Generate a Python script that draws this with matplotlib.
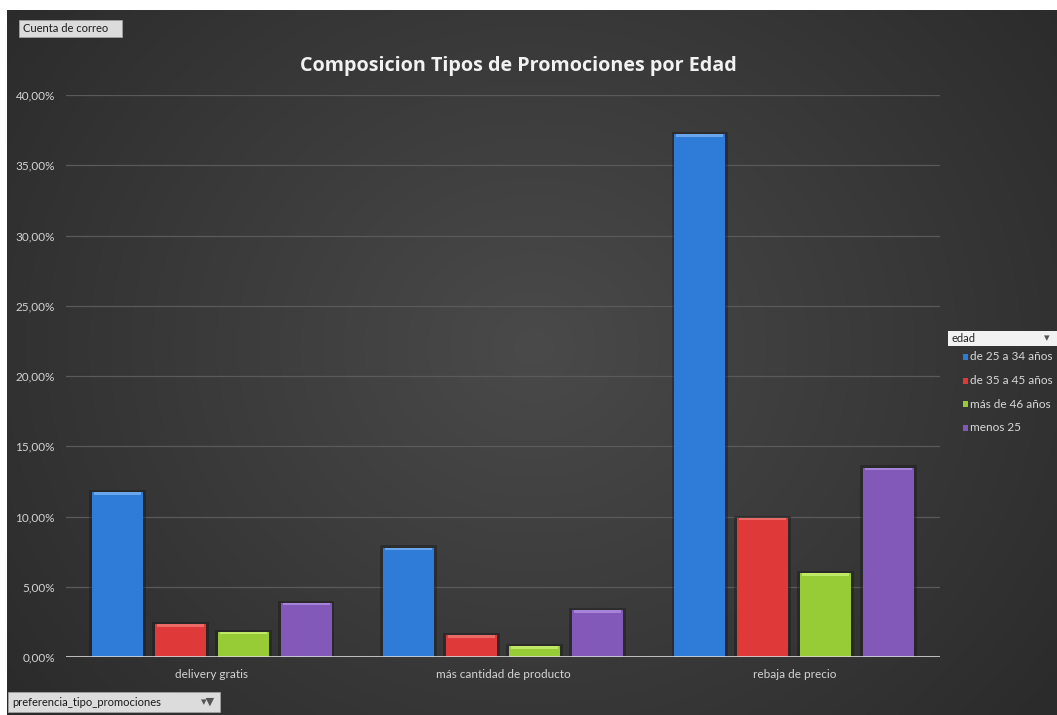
import matplotlib

matplotlib.use("Agg")
import matplotlib.pyplot as plt
import matplotlib.patches as mpatches
from matplotlib.ticker import FuncFormatter
import numpy as np

plt.rcParams["font.family"] = ["Lato", "DejaVu Sans"]

CATEGORIAS = ["delivery gratis", "más cantidad de producto", "rebaja de precio"]
EDADES = ["de 25 a 34 años", "de 35 a 45 años", "más de 46 años", "menos 25"]
COLORES = ["#2f7bd8", "#e0393a", "#98cc36", "#8259b9"]
BRILLOS = ["#6aa6ec", "#ec6a66", "#bfe866", "#a583d6"]

# porcentaje por tipo de promoción (fila = edad, columna = categoría)
VALORES = {
    "de 25 a 34 años": [11.74, 7.79, 37.22],
    "de 35 a 45 años": [2.33, 1.54, 9.92],
    "más de 46 años": [1.80, 0.76, 5.98],
    "menos 25": [3.86, 3.32, 13.48],
}
Y_TICKS = [0, 5, 10, 15, 20, 25, 30, 35, 40]

W, H = 1057, 715
fig = plt.figure(figsize=(W / 100, H / 100), dpi=100)
fig.patch.set_facecolor("white")

# fondo oscuro con degradado radial
bg = fig.add_axes([7 / W, 0, 1 - 7 / W, 1 - 10 / H])
yy, xx = np.mgrid[0:200, 0:300]
d = np.sqrt(((xx - 150) / 170) ** 2 + ((yy - 95) / 150) ** 2)
shade = np.clip(0.29 - 0.11 * d, 0.17, 0.29)
bg.imshow(np.dstack([shade] * 3), aspect="auto", extent=[0, 1, 0, 1], interpolation="bicubic")
bg.set_axis_off()

ax = fig.add_axes([66 / W, (H - 657) / H, (940 - 66) / W, (657 - 95) / H])
ax.patch.set_alpha(0)

x = np.arange(len(CATEGORIAS))
paso = 0.216
ancho = 0.175
for i, edad in enumerate(EDADES):
    pos = x + (i - 1.5) * paso
    vals = np.array(VALORES[edad])
    # sombra alrededor de la barra
    ax.bar(pos, vals + 0.25, width=ancho + 0.02, bottom=-0.1,
           color="#1a1a1a", alpha=0.45, zorder=2, linewidth=0)
    ax.bar(pos, vals, width=ancho, color=COLORES[i], zorder=3, linewidth=0)
    # bisel superior
    ax.bar(pos, 0.18, bottom=vals - 0.18, width=ancho * 0.92,
           color=BRILLOS[i], zorder=4, linewidth=0)

ax.set_xlim(-0.5, 2.5)
ax.set_ylim(0, 40)
ax.set_yticks(Y_TICKS)
ax.yaxis.set_major_formatter(FuncFormatter(lambda v, p: f"{v:.2f}%".replace(".", ",")))
ax.set_xticks(x)
ax.set_xticklabels(CATEGORIAS)
ax.tick_params(axis="both", length=0, colors="#d4d4d4", labelsize=8.5)
ax.tick_params(axis="y", pad=8)
ax.tick_params(axis="x", pad=9)
ax.grid(axis="y", color="#5a5a5a", linewidth=0.9, zorder=0)
ax.axhline(0, color="#d8d8d8", linewidth=1.2, zorder=5)
for s in ax.spines.values():
    s.set_visible(False)

fig.text(518 / W, 1 - 66 / H, "Composicion Tipos de Promociones por Edad",
         ha="center", va="center", fontsize=14.2, fontweight="bold",
         color="#f2f2f2", family=["Open Sans", "DejaVu Sans"])

# botones de campo
def boton(x0, y0, w, h, texto, flecha=""):
    fig.patches.append(mpatches.Rectangle((x0 / W, 1 - (y0 + h) / H), w / W, h / H,
                                          transform=fig.transFigure, facecolor="#dcdcdc",
                                          edgecolor="#a0a0a0", linewidth=0.6))
    fig.text((x0 + 4) / W, 1 - (y0 + h / 2) / H, texto, ha="left", va="center",
             fontsize=8, color="#1a1a1a")
    if flecha:
        fig.text((x0 + w - 5) / W, 1 - (y0 + h / 2) / H, flecha, ha="right",
                 va="center", fontsize=8, color="#555555", family="DejaVu Sans")

boton(19, 20, 103, 17, "Cuenta de correo")
boton(8, 692, 212, 20, "preferencia_tipo_promociones", "▾▼")

# leyenda
fig.patches.append(mpatches.Rectangle((948 / W, 1 - 346 / H), 109 / W, 15 / H,
                                      transform=fig.transFigure, facecolor="#f2f2f2",
                                      edgecolor="none"))
fig.text(952 / W, 1 - 338.5 / H, "edad", ha="left", va="center", fontsize=8, color="#222222")
fig.text(1050 / W, 1 - 338.5 / H, "▾", ha="right", va="center", fontsize=8,
         color="#555555", family="DejaVu Sans")
for i, edad in enumerate(EDADES):
    yc = 357 + i * 23.6
    fig.patches.append(mpatches.Rectangle((963 / W, 1 - (yc + 3) / H), 5 / W, 6 / H,
                                          transform=fig.transFigure, facecolor=COLORES[i],
                                          edgecolor="none"))
    fig.text(970 / W, 1 - yc / H, edad, ha="left", va="center", fontsize=8.5, color="#d8d8d8")

fig.savefig("out.png", dpi=100, facecolor=fig.get_facecolor())
